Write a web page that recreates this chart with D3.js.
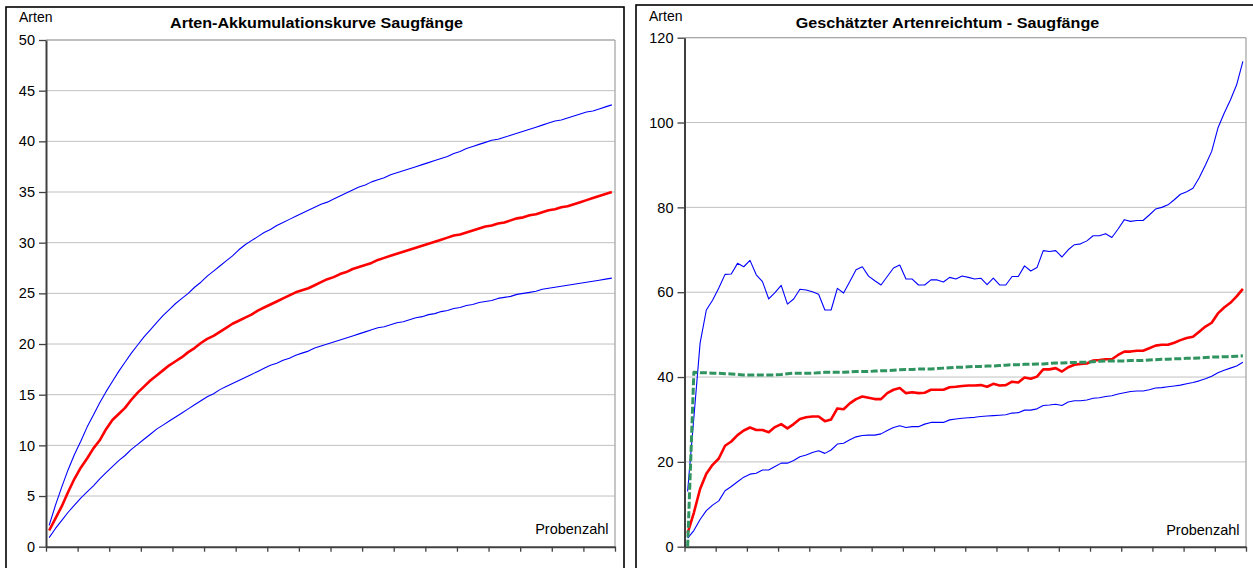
<!DOCTYPE html>
<html><head><meta charset="utf-8">
<script src="https://cdn.jsdelivr.net/npm/d3@7"></script>
<style>
body{margin:0;background:#fff}
svg{display:block}
text{font-family:"Liberation Sans",Arial,sans-serif;fill:#000}
</style>
</head><body>
<svg id="chart" width="1253" height="568"></svg>
<script>
// ---------- data ----------
const samples = d3.range(1, 91); // Probenzahl 1..90

const leftTicks = [0, 5, 10, 15, 20, 25, 30, 35, 40, 45, 50];
const rightTicks = [0, 20, 40, 60, 80, 100, 120];

// Arten-Akkumulationskurve: mean and 95% bounds
const accMean = [1.6,2.8,4.0,5.4,6.7,7.8,8.7,9.7,10.5,11.6,12.5,13.1,13.7,14.5,15.2,15.8,16.4,16.9,17.4,17.9,
  18.3,18.7,19.2,19.6,20.1,20.5,20.8,21.2,21.6,22.0,22.3,22.6,22.9,23.3,23.6,23.9,24.2,24.5,24.8,25.1,
  25.3,25.5,25.8,26.1,26.4,26.6,26.9,27.1,27.4,27.6,27.8,28.0,28.3,28.5,28.7,28.9,29.1,29.3,29.5,29.7,
  29.9,30.1,30.3,30.5,30.7,30.8,31.0,31.2,31.4,31.6,31.7,31.9,32.0,32.2,32.4,32.5,32.7,32.8,33.0,33.2,
  33.3,33.5,33.6,33.8,34.0,34.2,34.4,34.6,34.8,35.0];
const accUpper = [2.1,4.1,5.9,7.6,9.1,10.4,11.8,13.0,14.2,15.3,16.3,17.3,18.2,19.1,19.9,20.7,21.4,22.1,22.8,23.4,
  24.0,24.5,25.0,25.6,26.1,26.7,27.2,27.7,28.2,28.7,29.3,29.8,30.2,30.6,31.0,31.3,31.7,32.0,32.3,32.6,
  32.9,33.2,33.5,33.8,34.0,34.3,34.6,34.9,35.2,35.5,35.7,36.0,36.2,36.4,36.7,36.9,37.1,37.3,37.5,37.7,
  37.9,38.1,38.3,38.5,38.8,39.0,39.3,39.5,39.7,39.9,40.1,40.2,40.4,40.6,40.8,41.0,41.2,41.4,41.6,41.8,
  42.0,42.1,42.3,42.5,42.7,42.9,43.0,43.2,43.4,43.6];
const accLower = [0.9,1.8,2.6,3.4,4.1,4.8,5.4,6.0,6.7,7.3,7.9,8.5,9.0,9.6,10.1,10.6,11.1,11.6,12.0,12.4,
  12.8,13.2,13.6,14.0,14.4,14.8,15.1,15.5,15.8,16.1,16.4,16.7,17.0,17.3,17.6,17.9,18.1,18.4,18.6,18.9,
  19.1,19.3,19.6,19.8,20.0,20.2,20.4,20.6,20.8,21.0,21.2,21.4,21.6,21.7,21.9,22.1,22.2,22.4,22.6,22.7,
  22.9,23.0,23.2,23.3,23.5,23.6,23.8,23.9,24.1,24.2,24.3,24.5,24.6,24.7,24.9,25.0,25.1,25.2,25.4,25.5,
  25.6,25.7,25.8,25.9,26.0,26.1,26.2,26.3,26.4,26.5];

// Geschätzter Artenreichtum
const estMean = [3.2,8.0,13.6,17.2,19.3,20.8,23.8,24.8,26.3,27.4,28.1,27.5,27.5,27.0,28.2,28.9,27.9,28.9,30.1,30.5,
  30.7,30.7,29.6,30.0,32.6,32.4,33.8,34.8,35.4,35.1,34.8,34.8,36.2,37.0,37.4,36.2,36.4,36.2,36.3,37.0,
  37.0,37.0,37.6,37.7,37.9,38.0,38.0,38.1,37.7,38.4,38.0,38.1,38.9,38.7,39.9,39.6,40.1,41.8,41.8,42.1,
  41.3,42.3,42.9,43.1,43.2,43.9,44.0,44.2,44.2,45.2,46.0,46.0,46.2,46.2,46.8,47.4,47.6,47.6,48.1,48.7,
  49.2,49.5,50.7,51.9,52.8,55.0,56.4,57.5,59.0,60.8];
const estUpper = [13.0,30.4,48.0,55.8,58.1,61.0,64.2,64.3,66.8,66.0,67.5,64.1,62.5,58.4,59.9,61.6,57.2,58.4,60.7,60.5,
  60.1,59.5,55.8,55.8,60.9,59.8,62.5,65.3,66.0,63.8,62.7,61.7,63.7,65.7,66.4,63.1,63.1,61.7,61.7,62.9,
  62.9,62.4,63.5,63.1,63.8,63.5,63.1,63.3,61.8,63.3,61.7,61.7,63.7,63.7,66.2,65.0,65.8,69.8,69.6,69.8,
  68.3,70.0,71.2,71.4,72.1,73.3,73.3,73.8,72.9,74.9,77.1,76.7,76.9,76.9,78.2,79.6,80.0,80.6,81.8,83.1,
  83.7,84.5,87.0,90.0,93.2,98.7,102.2,105.3,108.9,114.4];
const estLower = [2.0,3.8,6.4,8.5,9.8,10.8,13.2,14.2,15.3,16.4,17.1,17.3,18.1,18.1,18.9,19.7,19.7,20.3,21.2,21.6,
  22.2,22.6,22.0,22.8,24.2,24.4,25.2,25.9,26.2,26.3,26.3,26.6,27.4,28.1,28.5,28.1,28.3,28.3,28.9,29.3,
  29.3,29.3,29.9,30.1,30.3,30.4,30.5,30.7,30.8,30.9,31.0,31.1,31.5,31.6,32.2,32.2,32.5,33.3,33.4,33.6,
  33.3,34.1,34.4,34.4,34.6,35.0,35.1,35.4,35.6,36.0,36.3,36.6,36.7,36.7,37.0,37.4,37.5,37.7,37.9,38.1,
  38.4,38.7,39.1,39.6,40.2,41.0,41.6,42.1,42.6,43.5];
const estChao = [0,41.1,41.0,41.0,40.9,40.9,40.8,40.7,40.6,40.5,40.5,40.5,40.5,40.5,40.5,40.6,40.8,40.9,40.9,40.9,
  40.9,41.0,41.1,41.1,41.1,41.1,41.2,41.3,41.3,41.3,41.4,41.5,41.5,41.6,41.7,41.8,41.8,41.9,41.9,41.9,
  42.0,42.1,42.2,42.3,42.3,42.4,42.5,42.5,42.6,42.6,42.7,42.8,42.9,42.9,43.0,43.0,43.1,43.1,43.2,43.3,
  43.3,43.4,43.4,43.5,43.5,43.6,43.7,43.8,43.8,43.8,43.8,43.9,43.9,43.9,44.0,44.1,44.2,44.2,44.3,44.3,
  44.4,44.4,44.5,44.6,44.7,44.7,44.8,44.8,44.9,45.0];

// ---------- drawing ----------
const svg = d3.select('#chart');

function panel(cfg) {
  const g = svg.append('g');
  g.append('rect')
    .attr('x', cfg.fx).attr('y', cfg.fy).attr('width', cfg.fw).attr('height', cfg.fh)
    .attr('fill', '#fff').attr('stroke', '#000').attr('stroke-width', 1.6);

  const x = d3.scaleLinear().domain([0, samples.length]).range([cfg.x0, cfg.x1]);
  const y = d3.scaleLinear().domain([0, cfg.yMax]).range([cfg.y1, cfg.y0]);

  // gridlines
  g.append('g').selectAll('line').data(cfg.ticks.filter(t => t > 0)).join('line')
    .attr('x1', cfg.x0).attr('x2', cfg.x1)
    .attr('y1', d => y(d)).attr('y2', d => y(d))
    .attr('stroke', '#c0c0c0').attr('stroke-width', 1);
  // plot area border (top / right)
  g.append('line').attr('x1', cfg.x1).attr('x2', cfg.x1).attr('y1', cfg.y0).attr('y2', cfg.y1)
    .attr('stroke', '#a0a0a0').attr('stroke-width', 1.2);
  g.append('line').attr('x1', cfg.x0).attr('x2', cfg.x1).attr('y1', cfg.y0).attr('y2', cfg.y0)
    .attr('stroke', '#a0a0a0').attr('stroke-width', 1);

  // y axis
  const ya = g.append('g').attr('transform', `translate(${cfg.x0},0)`)
    .call(d3.axisLeft(y).tickValues(cfg.ticks).tickSize(7).tickSizeOuter(0).tickPadding(4).tickFormat(d3.format('d')));
  ya.select('.domain').attr('stroke', '#404040').attr('stroke-width', 2);
  ya.selectAll('.tick line').attr('stroke', '#404040').attr('stroke-width', 1.3);
  ya.selectAll('.tick text').attr('font-size', 14.5).attr('font-family', '"Liberation Sans",Arial,sans-serif').attr('fill', '#000');

  // x axis
  const xa = g.append('g').attr('transform', `translate(0,${cfg.y1})`)
    .call(d3.axisBottom(x).tickValues(d3.range(0, samples.length + 1, 5)).tickSize(5).tickSizeOuter(0).tickFormat(''));
  xa.select('.domain').attr('stroke', '#404040').attr('stroke-width', 2);
  xa.selectAll('.tick line').attr('stroke', '#404040').attr('stroke-width', 1.3);

  // series
  const line = d3.line().x((d, i) => x(i + 0.5)).y(d => y(d));
  cfg.series.forEach(s => {
    g.append('path').datum(s.values).attr('d', line)
      .attr('fill', 'none').attr('stroke', s.color).attr('stroke-width', s.width)
      .attr('stroke-dasharray', s.dash || null).attr('stroke-linejoin', 'round');
  });

  // texts
  g.append('text').attr('x', cfg.artenX).attr('y', cfg.artenY).attr('font-size', 14).text('Arten');
  g.append('text').attr('x', cfg.titleX).attr('y', 28.3).attr('text-anchor', 'middle')
    .attr('font-size', 14.5).attr('font-weight', 'bold')
    .attr('textLength', cfg.titleW).attr('lengthAdjust', 'spacingAndGlyphs').text(cfg.title);
  g.append('text').attr('x', cfg.probX).attr('y', cfg.probY).attr('text-anchor', 'end')
    .attr('font-size', 14.5).text('Probenzahl');
}

panel({
  fx: 6, fy: 7, fw: 618, fh: 580,
  x0: 46, x1: 615, y0: 40, y1: 546.7, yMax: 50, ticks: leftTicks,
  artenX: 19, artenY: 22.3,
  title: 'Arten-Akkumulationskurve Saugfänge', titleX: 316.5, titleW: 293,
  probX: 608.5, probY: 534,
  series: [
    { values: accUpper, color: '#0000ff', width: 1.1 },
    { values: accLower, color: '#0000ff', width: 1.1 },
    { values: accMean, color: '#ff0000', width: 2.6 }
  ]
});

panel({
  fx: 636, fy: 5, fw: 640, fh: 580,
  x0: 684.5, x1: 1246, y0: 37.7, y1: 546.7, yMax: 120, ticks: rightTicks,
  artenX: 649, artenY: 20.7,
  title: 'Geschätzter Artenreichtum - Saugfänge', titleX: 947.5, titleW: 303.6,
  probX: 1239.5, probY: 535,
  series: [
    { values: estUpper, color: '#0000ff', width: 1.1 },
    { values: estLower, color: '#0000ff', width: 1.1 },
    { values: estMean, color: '#ff0000', width: 2.6 },
    { values: estChao, color: '#2f9460', width: 3, dash: '7,2.5' }
  ]
});
</script>
</body></html>
